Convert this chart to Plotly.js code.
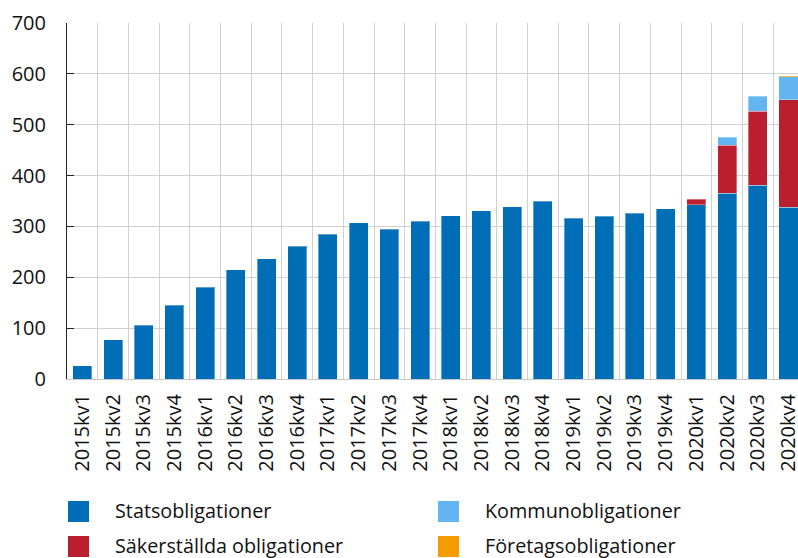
<!DOCTYPE html>
<html>
<head>
<meta charset="utf-8">
<script src="https://cdn.plot.ly/plotly-3.0.1.min.js"></script>
<style>html,body{margin:0;padding:0;background:#fff;}#chart{width:798px;height:558px;}</style>
</head>
<body>
<div id="chart"></div>
<script>
var categories = ["2015kv1","2015kv2","2015kv3","2015kv4","2016kv1","2016kv2","2016kv3","2016kv4",
  "2017kv1","2017kv2","2017kv3","2017kv4","2018kv1","2018kv2","2018kv3","2018kv4",
  "2019kv1","2019kv2","2019kv3","2019kv4","2020kv1","2020kv2","2020kv3","2020kv4"];
var statsobligationer = [26,77,106,145,180,215,236,261,285,307,294,310,321,331,339,350,316,320,326,335,343,365,381,338];
var sakerstallda = [null,null,null,null,null,null,null,null,null,null,null,null,null,null,null,null,null,null,null,null,10.5,94.5,145,211];
var kommunobligationer = [null,null,null,null,null,null,null,null,null,null,null,null,null,null,null,null,null,null,null,null,null,16,30,45];
var foretagsobligationer = [null,null,null,null,null,null,null,null,null,null,null,null,null,null,null,null,null,null,null,null,null,null,null,2.6];
var seriesNames = ["Statsobligationer","Säkerställda obligationer","Kommunobligationer","Företagsobligationer"];
var seriesColors = ["#006eb6","#bb1e2d","#62b5f0","#f59b00"];
var yTicks = [0,100,200,300,400,500,600,700];

var FONT = "'Open Sans', 'Noto Sans', sans-serif";
var seriesValues = [statsobligationer, sakerstallda, kommunobligationer, foretagsobligationer];
var traces = seriesValues.map(function(v,i){
  return {type:'bar', x:categories, y:v, name:seriesNames[i],
    marker:{color:seriesColors[i], line:{color:'rgba(255,255,255,0.35)', width:1}},
    hoverinfo:'x+y+name'};
});

// custom legend (2 columns x 2 rows): order Stats, Kommun / Säk, Företag
var legendOrder = [0,2,1,3];
var plotL = 67, plotW = 731, plotB = 379, plotH = 356;
function px(x){return (x-plotL)/plotW;}
function py(y){return (plotB-y)/plotH;}
var colSw = [68, 438], colTx = [113, 483], rowC = [511.5, 546.5];
var shapes = [], annotations = [];
legendOrder.forEach(function(si, k){
  var c = k % 2, r = Math.floor(k/2);
  shapes.push({type:'rect', xref:'paper', yref:'paper',
    x0:px(colSw[c]), x1:px(colSw[c]+21), y0:py(rowC[r]-10.5), y1:py(rowC[r]+10.5),
    fillcolor:seriesColors[si], line:{width:0}});
  annotations.push({xref:'paper', yref:'paper', x:px(colTx[c]), y:py(rowC[r]-1),
    xanchor:'left', yanchor:'middle', showarrow:false, text:seriesNames[si],
    font:{family:FONT, size:19.8, color:'#111'}});
});

var layout = {
  width:798, height:558,
  margin:{l:67, r:0, t:23, b:179},
  paper_bgcolor:'#fff', plot_bgcolor:'#fff',
  barmode:'stack', bargap:0.38,
  showlegend:false,
  font:{family:FONT, size:20, color:'#111'},
  xaxis:{type:'category', range:[-0.5, 23.31], tickson:'boundaries',
    showgrid:true, gridcolor:'#d0d0d0', gridwidth:1,
    ticks:'', tickangle:-90, ticklabelstandoff:6,
    showline:true, linecolor:'#c8c8c8', linewidth:1,
    tickfont:{family:FONT, size:20, color:'#111'}, fixedrange:true},
  yaxis:{range:[0,700], tickvals:yTicks, ticktext:yTicks.map(String),
    showgrid:true, gridcolor:'#d0d0d0', gridwidth:1, zeroline:false,
    showline:true, linecolor:'#222', linewidth:1,
    ticks:'inside', ticklen:7, tickcolor:'#222', ticklabelstandoff:16,
    tickfont:{family:FONT, size:20, color:'#111'}, fixedrange:true},
  shapes:shapes, annotations:annotations
};
Plotly.newPlot('chart', traces, layout, {displayModeBar:false, staticPlot:true});
</script>
</body>
</html>
